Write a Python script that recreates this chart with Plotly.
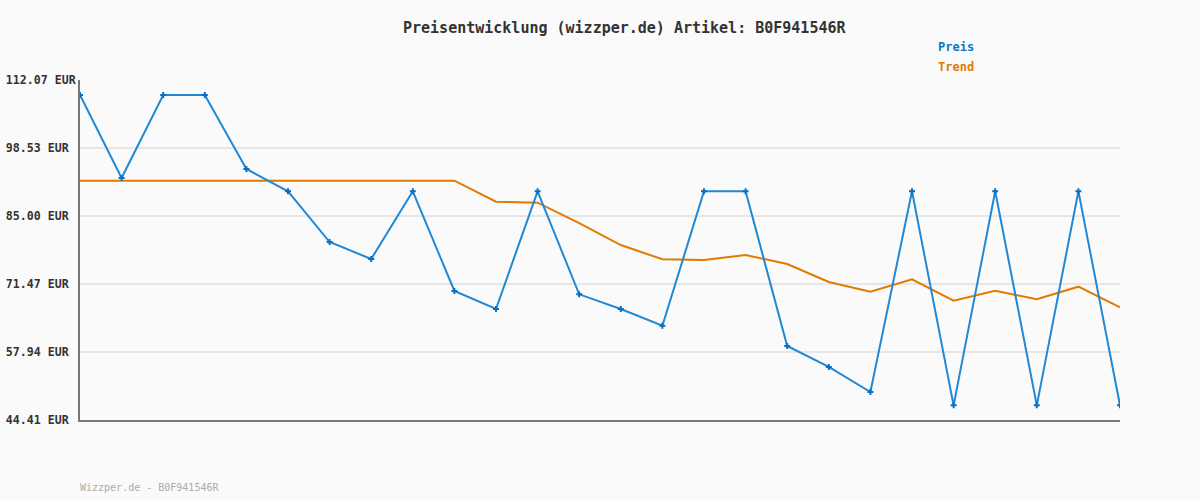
import plotly.graph_objects as go

# Data
x_index = list(range(26))
preis = [109.08, 92.57, 109.08, 109.08, 94.36, 89.92, 79.83, 76.45, 89.92, 70.08,
         66.50, 89.92, 69.42, 66.50, 63.17, 89.92, 89.92, 59.14, 54.96, 49.98,
         89.92, 47.33, 89.92, 47.33, 89.92, 47.33]
trend = [92.03, 92.03, 92.03, 92.03, 92.03, 92.03, 92.03, 92.03, 92.03, 92.03,
         87.85, 87.65, 83.61, 79.23, 76.39, 76.25, 77.24, 75.45, 71.87, 69.94,
         72.41, 68.15, 70.14, 68.43, 70.94, 66.84]
tick_vals = [112.07, 98.53, 85.00, 71.47, 57.94, 44.41]
tick_text = ["112.07 EUR", "98.53 EUR", "85.00 EUR", "71.47 EUR", "57.94 EUR", "44.41 EUR"]

MONO = "DejaVu Sans Mono"
BLUE = "#2088d4"
ORANGE = "#e07b00"

fig = go.Figure()
fig.add_trace(go.Scatter(x=x_index, y=trend, mode="lines", name="Trend",
                         line=dict(color=ORANGE, width=2), hoverinfo="skip"))
fig.add_trace(go.Scatter(x=x_index, y=preis, mode="lines+markers", name="Preis",
                         line=dict(color=BLUE, width=2),
                         marker=dict(symbol="cross", size=5, color="#0a6fc0"),
                         hoverinfo="skip"))

maxlen = max(len(t) for t in tick_text)
padded = [t + "\u00a0" * (maxlen - len(t)) for t in tick_text]

fig.update_layout(
    width=1200, height=500,
    margin=dict(l=80, r=80, t=80, b=80),
    paper_bgcolor="#fafafa", plot_bgcolor="#fafafa",
    showlegend=False,
    font=dict(family=MONO, color="#333333"),
    xaxis=dict(range=[0, 25], showgrid=False, zeroline=False, showticklabels=False,
               showline=True, linecolor="#777777", linewidth=2, ticks="",
               automargin=False),
    yaxis=dict(range=[44.41, 112.07], tickvals=tick_vals, ticktext=padded,
               showgrid=True, gridcolor="#e6e6e6", gridwidth=2, zeroline=False,
               showline=True, linecolor="#777777", linewidth=2, ticks="",
               automargin=False, ticklabelstandoff=0,
               tickfont=dict(family=MONO, size=11.6, color="#333333", weight="bold")),
    annotations=[
        dict(text="<b>Preisentwicklung (wizzper.de) Artikel: B0F941546R</b>",
             xref="paper", yref="paper", x=(624 - 80) / 1040, y=(420 - 28) / 340,
             xanchor="center", yanchor="middle", showarrow=False,
             font=dict(family=MONO, size=15, color="#333333")),
        dict(text="<b>Preis</b>", xref="paper", yref="paper",
             x=(936 - 80) / 1040, y=(420 - 47) / 340, xanchor="left", yanchor="middle",
             showarrow=False, font=dict(family=MONO, size=12, color="#0a78c8")),
        dict(text="<b>Trend</b>", xref="paper", yref="paper",
             x=(936 - 80) / 1040, y=(420 - 67) / 340, xanchor="left", yanchor="middle",
             showarrow=False, font=dict(family=MONO, size=12, color=ORANGE)),
        dict(text="Wizzper.de - B0F941546R", xref="paper", yref="paper",
             x=-2 / 1040, y=(420 - 487) / 340, xanchor="left", yanchor="middle",
             showarrow=False, font=dict(family=MONO, size=10, color="#aaaaaa")),
    ],
)

fig.write_html("out.html", config={"displayModeBar": False},
               post_script="document.body.style.margin='0';document.body.style.background='#fafafa';")
